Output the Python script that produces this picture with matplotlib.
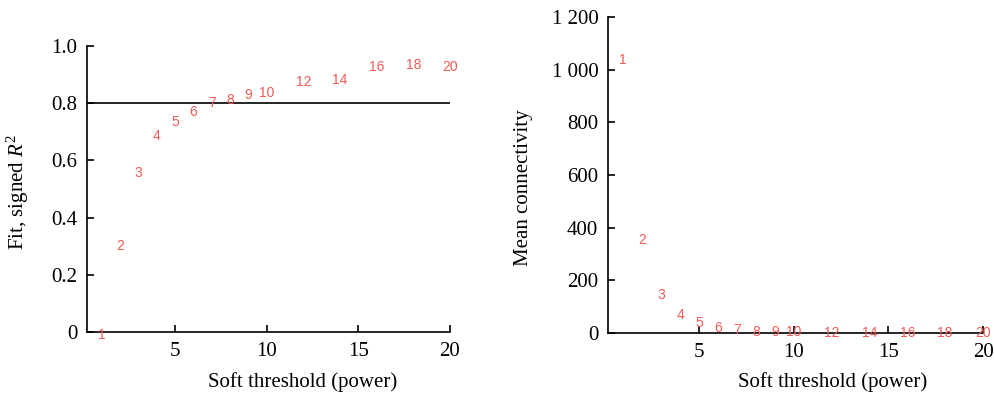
import matplotlib
matplotlib.use("Agg")
import matplotlib.pyplot as plt
from matplotlib.ticker import FuncFormatter

# soft-threshold powers and fit results
powers = [1, 2, 3, 4, 5, 6, 7, 8, 9, 10, 12, 14, 16, 18, 20]
signed_r2 = [-0.01, 0.30, 0.555, 0.685, 0.735, 0.77, 0.80, 0.81, 0.83, 0.835,
             0.873, 0.88, 0.928, 0.934, 0.928]
mean_k = [1037, 353, 144, 68, 38, 19, 11, 5, 3, 2, 1, 0.5, 0.3, 0.2, 0.2]

RED = "#F25A55"
SERIF = "Liberation Serif"
SANS = "Liberation Sans"

plt.rcParams["font.family"] = SERIF
plt.rcParams["mathtext.fontset"] = "custom"
plt.rcParams["mathtext.rm"] = SERIF
plt.rcParams["mathtext.it"] = SERIF + ":italic"

fig = plt.figure(figsize=(9.94, 3.93), dpi=100)
ax1 = fig.add_axes([0.0875, 0.1552, 0.3652, 0.7277])
ax2 = fig.add_axes([0.6117, 0.1527, 0.3773, 0.8041])


def style(ax):
    for s in ["top", "right"]:
        ax.spines[s].set_visible(False)
    for s in ["left", "bottom"]:
        ax.spines[s].set_linewidth(1.2)
    ax.tick_params(direction="in", length=5, width=1.2, labelsize=15, pad=7)
    ax.set_xlim(0.2, 20)
    ax.set_xticks([5, 10, 15, 20])


# left: scale-free topology fit
style(ax1)
ax1.set_ylim(0, 1.0)
ax1.set_yticks([0, 0.2, 0.4, 0.6, 0.8, 1.0])
ax1.yaxis.set_major_formatter(FuncFormatter(lambda v, p: "0" if v == 0 else f"{v:.1f}"))
ax1.axhline(0.8, color="black", lw=1.2)
for p, r in zip(powers, signed_r2):
    ax1.text(p, r, str(p), color=RED, family=SANS, fontsize=10,
             ha="center", va="center", clip_on=False)
ax1.set_xlabel("Soft threshold (power)", fontsize=15)
ax1.set_ylabel("Fit, signed $\\mathit{R}^2$", fontsize=15)
ax1.xaxis.set_label_coords(0.595, -0.14)
ax1.yaxis.set_label_coords(-0.155, 0.49)

# right: mean connectivity
style(ax2)
ax2.set_ylim(0, 1200)
ax2.set_yticks([0, 200, 400, 600, 800, 1000, 1200])
ax2.yaxis.set_major_formatter(FuncFormatter(lambda v, p: f"{int(v):,}".replace(",", " ")))
for p, k in zip(powers, mean_k):
    ax2.text(p, k, str(p), color=RED, family=SANS, fontsize=10,
             ha="center", va="center", clip_on=False)
ax2.set_xlabel("Soft threshold (power)", fontsize=15)
ax2.set_ylabel("Mean connectivity", fontsize=15)
ax2.xaxis.set_label_coords(0.6, -0.125)
ax2.yaxis.set_label_coords(-0.2, 0.46)

fig.savefig("out.png", dpi=100)
